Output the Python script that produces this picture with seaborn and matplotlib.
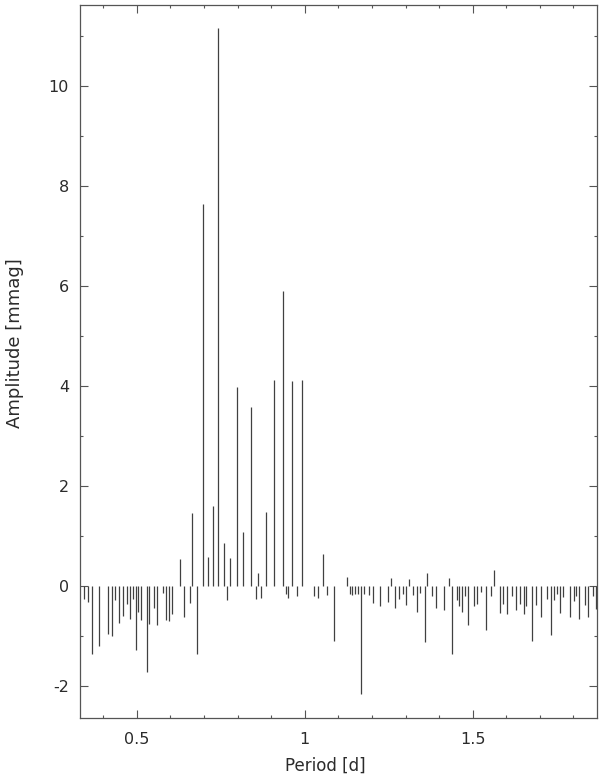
import numpy as np
import pandas as pd
import matplotlib
matplotlib.use("Agg")
import matplotlib.pyplot as plt
import seaborn as sns
from matplotlib.ticker import MultipleLocator

# periods [d] and amplitudes [mmag]
period = [
    0.344, 0.354, 0.366, 0.387, 0.414, 0.426, 0.435, 0.448, 0.459, 0.472,
    0.481, 0.490, 0.497, 0.505, 0.514, 0.529, 0.537, 0.552, 0.561, 0.578,
    0.588, 0.597, 0.606, 0.628, 0.642, 0.657, 0.665, 0.679, 0.696, 0.711,
    0.726, 0.743, 0.759, 0.770, 0.779, 0.799, 0.817, 0.839, 0.854, 0.862,
    0.869, 0.884, 0.909, 0.935, 0.943, 0.951, 0.963, 0.978, 0.991, 1.029,
    1.038, 1.055, 1.067, 1.088, 1.127, 1.135, 1.142, 1.150, 1.158, 1.167,
    1.176, 1.192, 1.202, 1.224, 1.249, 1.258, 1.270, 1.280, 1.292, 1.302,
    1.311, 1.323, 1.333, 1.344, 1.358, 1.365, 1.380, 1.392, 1.415, 1.429,
    1.439, 1.452, 1.460, 1.467, 1.477, 1.485, 1.503, 1.514, 1.524, 1.540,
    1.554, 1.564, 1.581, 1.591, 1.603, 1.616, 1.630, 1.640, 1.652, 1.660,
    1.677, 1.688, 1.702, 1.722, 1.734, 1.743, 1.751, 1.759, 1.770, 1.790,
    1.802, 1.808, 1.817, 1.833, 1.844, 1.859, 1.868,
]
amplitude = [
    -0.25, -0.31, -1.35, -1.20, -0.96, -0.99, -0.27, -0.73, -0.59, -0.36,
    -0.65, -0.25, -1.27, -0.51, -0.68, -1.72, -0.76, -0.43, -0.78, -0.13,
    -0.68, -0.70, -0.56, 0.55, -0.61, -0.33, 1.46, -1.35, 7.65, 0.58,
    1.61, 11.16, 0.87, -0.28, 0.56, 3.99, 1.08, 3.58, -0.25, 0.27,
    -0.23, 1.48, 4.13, 5.90, -0.15, -0.23, 4.11, -0.20, 4.13, -0.19,
    -0.23, 0.65, -0.18, -1.10, 0.19, -0.16, -0.17, -0.16, -0.16, -2.15,
    -0.16, -0.18, -0.33, -0.39, -0.31, 0.17, -0.43, -0.25, -0.15, -0.38,
    0.15, -0.17, -0.51, -0.13, -1.12, 0.27, -0.20, -0.43, -0.47, 0.17,
    -1.35, -0.27, -0.40, -0.51, -0.20, -0.78, -0.39, -0.35, -0.11, -0.88,
    -0.20, 0.32, -0.53, -0.35, -0.56, -0.20, -0.48, -0.35, -0.56, -0.39,
    -1.10, -0.37, -0.61, -0.25, -0.98, -0.27, -0.15, -0.53, -0.21, -0.61,
    -0.30, -0.20, -0.65, -0.38, -0.61, -0.20, -0.45,
]

df = pd.DataFrame({"period": period, "amplitude": amplitude})

sns.set_style("ticks")
plt.rcParams["font.family"] = ["DejaVu Sans"]
plt.rcParams["axes.unicode_minus"] = False

text_col = "#2b2b2b"
frame_col = "#555555"

fig = plt.figure(figsize=(6.0, 7.79), dpi=100)
ax = fig.add_axes([80 / 600, 61 / 779, 517 / 600, 713 / 779])

ax.vlines(df["period"], 0, df["amplitude"], color="#404040", linewidth=0.9)

ax.set_xlim(0.331, 1.870)
ax.set_ylim(-2.64, 11.62)

ax.xaxis.set_major_locator(MultipleLocator(0.5))
ax.xaxis.set_minor_locator(MultipleLocator(0.1))
ax.yaxis.set_major_locator(MultipleLocator(2))
ax.yaxis.set_minor_locator(MultipleLocator(1))
ax.set_xticks([0.5, 1.0, 1.5])
ax.set_xticklabels(["0.5", "1", "1.5"])

ax.tick_params(which="both", direction="in", top=True, right=True,
               color=frame_col, width=0.8, labelcolor=text_col, labelsize=11.5)
ax.tick_params(which="major", length=5.5)
ax.tick_params(which="minor", length=2.4)
ax.tick_params(axis="x", which="major", pad=10)
ax.tick_params(axis="y", which="major", pad=8)

for s in ax.spines.values():
    s.set_color(frame_col)
    s.set_linewidth(0.9)

fig.text(325 / 600, 1 - 766 / 779, "Period [d]", ha="center", va="center",
         fontsize=12, color=text_col)
fig.text(15 / 600, 1 - 343 / 779, "Amplitude [mmag]", ha="center", va="center",
         rotation=90, fontsize=13, color=text_col)

fig.savefig("out.png", dpi=100)
